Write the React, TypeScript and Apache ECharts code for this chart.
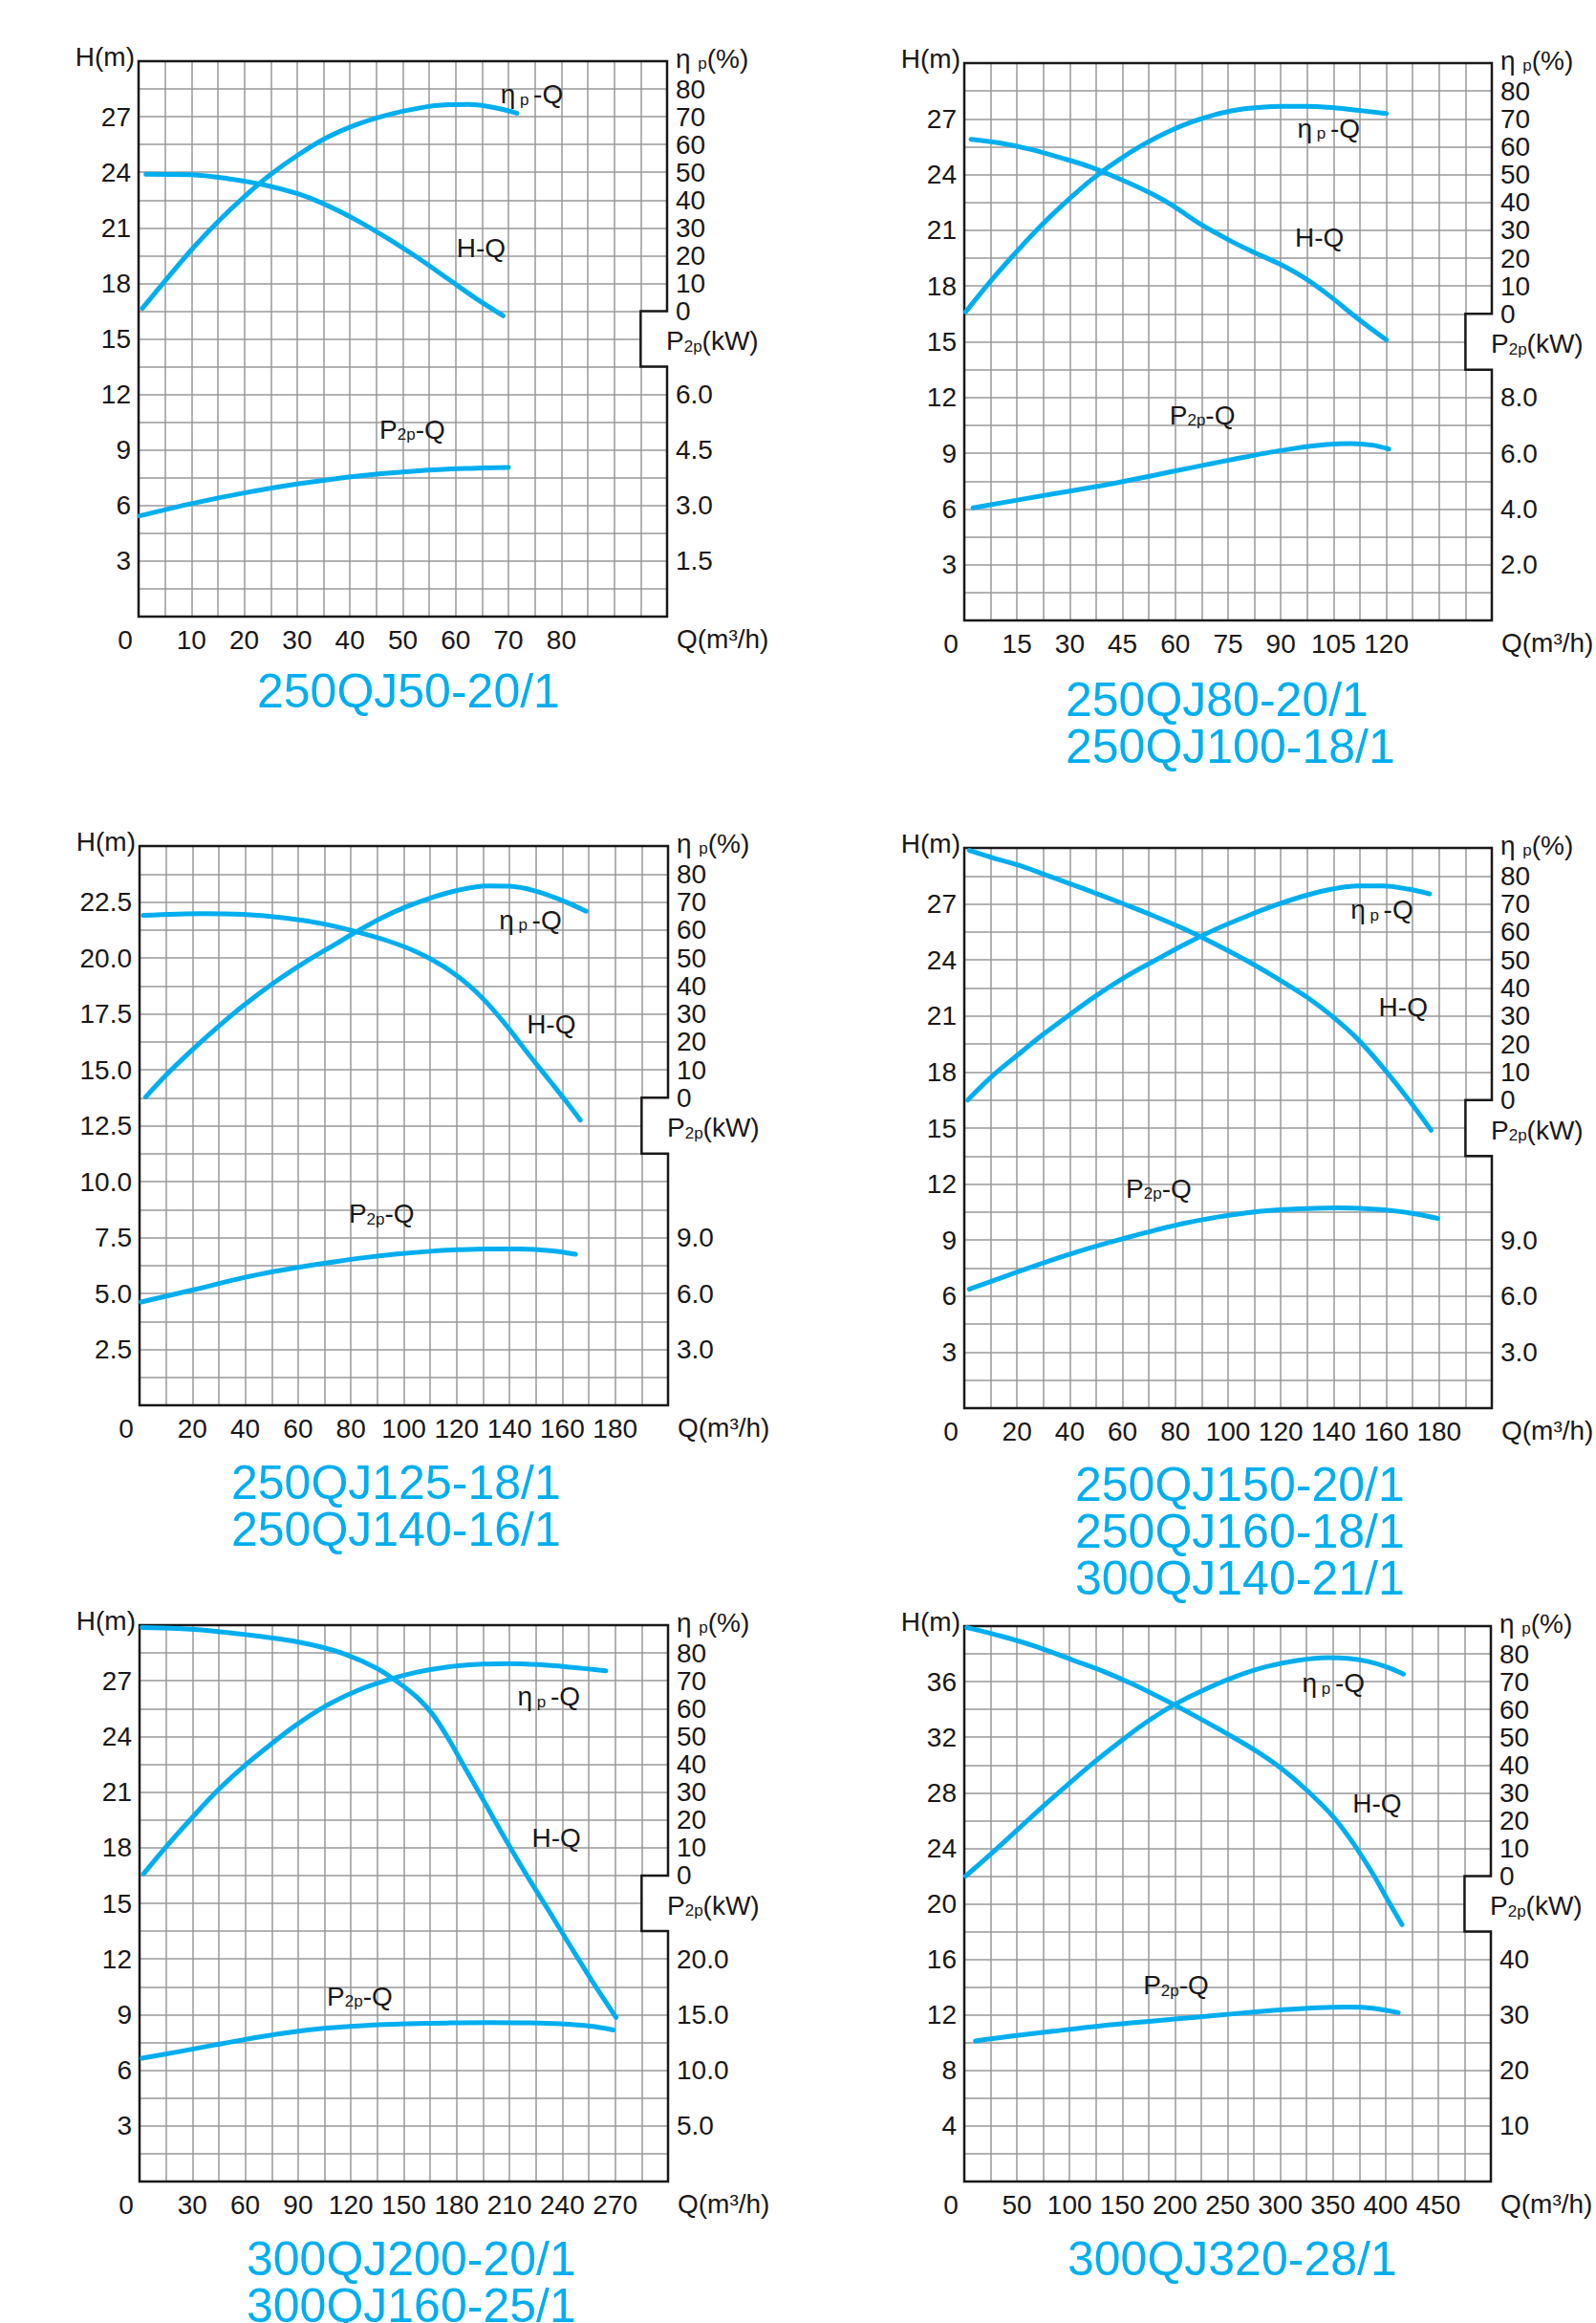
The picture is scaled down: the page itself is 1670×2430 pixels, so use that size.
import React, { useEffect, useRef } from 'react';
import * as echarts from 'echarts';

type Pt = [number, number];

// ---------------- Chart 1 : 250QJ50-20/1 ----------------
const c1Titles = ['250QJ50-20/1'];
const c1HQ: Pt[] = [[1.4, 23.9], [10, 23.87], [17, 23.65], [24, 23.3], [30, 22.85], [35, 22.3], [41, 21.45], [47, 20.45], [53, 19.35], [58.5, 18.25], [64, 17.15], [69, 16.25]];
const c1EtaQ: Pt[] = [[0.7, 1], [5.5, 12], [10.3, 22.7], [15, 32.2], [20, 41.2], [25, 49.2], [30, 56], [35.4, 62.3], [41, 67], [47, 70.6], [53, 73.1], [58.5, 74.3], [62.5, 74.4], [67, 73.4], [71.6, 71.3]];
const c1PQ: Pt[] = [[0.2, 2.72], [10, 3.05], [20, 3.34], [30, 3.58], [41, 3.79], [53, 3.94], [64, 4.01], [70, 4.03]];

// ---------------- Chart 2 : 250QJ80-20/1, 250QJ100-18/1 ----------------
const c2Titles = ['250QJ80-20/1', '250QJ100-18/1'];
const c2HQ: Pt[] = [[1.9, 25.9], [10, 25.7], [19, 25.35], [27.5, 24.9], [36, 24.4], [45, 23.7], [53.5, 22.95], [59.5, 22.3], [67, 21.35], [75.5, 20.45], [82.5, 19.8], [90, 19.15], [97, 18.4], [104, 17.45], [111.5, 16.3], [120, 15.1]];
const c2EtaQ: Pt[] = [[0.4, 0.7], [7.2, 11.3], [14.5, 21.8], [21.7, 31.5], [29, 40.3], [36.2, 48.2], [43.5, 54.9], [50.7, 60.6], [58, 65.4], [65.2, 69.1], [72.5, 71.9], [79.7, 73.6], [90, 74.5], [97, 74.5], [105.8, 73.9], [111.6, 73.1], [120, 71.9]];
const c2PQ: Pt[] = [[2.5, 4.04], [17.4, 4.37], [30.4, 4.65], [39, 4.84], [47.8, 5.05], [59.4, 5.35], [68, 5.57], [76.8, 5.79], [85.5, 6.0], [94.2, 6.18], [103, 6.31], [110, 6.35], [116, 6.29], [120.7, 6.15]];

// ---------------- Chart 3 : 250QJ125-18/1, 250QJ140-16/1 ----------------
const c3Titles = ['250QJ125-18/1', '250QJ140-16/1'];
const c3HQ: Pt[] = [[1.4, 21.9], [24, 21.98], [39.5, 21.94], [55, 21.78], [70.4, 21.5], [82, 21.17], [93.5, 20.78], [105, 20.26], [115, 19.62], [124.4, 18.8], [132, 17.92], [140, 16.8], [147.5, 15.65], [155.3, 14.5], [161, 13.65], [166.8, 12.75]];
const c3EtaQ: Pt[] = [[2.3, 0.2], [10.6, 8.6], [20.3, 17.4], [30, 25.6], [39.5, 33.1], [51, 41.2], [62.7, 48.5], [74.3, 55], [82, 59.3], [91.6, 64.3], [101.3, 68.4], [111, 71.7], [120.5, 74.2], [132, 75.7], [140, 75.6], [149.5, 74], [159, 70.9], [169, 66.7]];
const c3PQ: Pt[] = [[0.6, 5.54], [20.3, 6.19], [39.5, 6.85], [51, 7.18], [62.7, 7.46], [74.3, 7.71], [85.8, 7.93], [97.4, 8.11], [109, 8.25], [120.5, 8.34], [132, 8.39], [143.7, 8.38], [155.3, 8.29], [165, 8.1]];

// ---------------- Chart 4 : 250QJ150-20/1, 250QJ160-18/1, 300QJ140-21/1 ----------------
const c4Titles = ['250QJ150-20/1', '250QJ160-18/1', '300QJ140-21/1'];
const c4HQ: Pt[] = [[1.9, 29.87], [10.9, 29.47], [20.5, 29.08], [30, 28.6], [39.7, 28.1], [49.3, 27.6], [60.8, 26.98], [72.4, 26.33], [84, 25.62], [95.4, 24.83], [107, 23.97], [118.4, 23.03], [130, 22.0], [139.5, 20.98], [149, 19.78], [158.7, 18.25], [168.3, 16.55], [177, 14.88]];
const c4EtaQ: Pt[] = [[1.3, 0], [10.9, 8.8], [20.5, 16.3], [30, 23.5], [39.7, 30.3], [49.3, 36.8], [60.8, 43.8], [72.4, 49.9], [84, 55.8], [95.4, 61], [107, 65.6], [118.4, 69.7], [130, 73.2], [139.5, 75.3], [149, 76.4], [158.7, 76.4], [168.3, 75.3], [176.4, 73.6]];
const c4PQ: Pt[] = [[1.9, 6.37], [14.8, 7.02], [26.3, 7.6], [37.8, 8.15], [49.3, 8.65], [60.8, 9.1], [72.4, 9.53], [84, 9.92], [95.4, 10.22], [107, 10.46], [118.4, 10.61], [130, 10.69], [141.5, 10.72], [153, 10.67], [164.5, 10.54], [172, 10.38], [179.5, 10.16]];

// ---------------- Chart 5 : 300QJ200-20/1, 300QJ160-25/1 ----------------
const c5Titles = ['300QJ200-20/1', '300QJ160-25/1'];
const c5HQ: Pt[] = [[1.4, 29.87], [21.7, 29.82], [42, 29.68], [62, 29.47], [82.4, 29.21], [100, 28.89], [117, 28.42], [134.5, 27.68], [146, 26.97], [157.6, 26.1], [166.3, 25.2], [175, 23.93], [183.7, 22.48], [192.4, 21.03], [201, 19.58], [209.7, 18.13], [221.3, 16.28], [233, 14.5], [244.4, 12.72], [256, 10.95], [270.5, 8.85]];
const c5EtaQ: Pt[] = [[2.3, 0.6], [15.9, 10.9], [30.4, 21.2], [44.8, 30.9], [59.3, 39.3], [73.8, 46.8], [88.2, 53.8], [105.6, 60.9], [123, 66.3], [140.3, 70.2], [157.6, 73.1], [175, 75.0], [192.4, 75.9], [209.7, 76.2], [227, 75.8], [244.4, 74.9], [264.7, 73.6]];
const c5PQ: Pt[] = [[1.4, 11.08], [21.7, 11.65], [42, 12.25], [62, 12.82], [82.4, 13.33], [105.6, 13.78], [128.7, 14.03], [152, 14.17], [175, 14.25], [198, 14.29], [221.3, 14.26], [238.6, 14.17], [256, 13.96], [269, 13.62]];

// ---------------- Chart 6 : 300QJ320-28/1 ----------------
const c6Titles = ['300QJ320-28/1'];
const c6HQ: Pt[] = [[2.4, 39.9], [36, 39.26], [70, 38.48], [103.7, 37.53], [132.6, 36.72], [161.5, 35.77], [190.5, 34.68], [219.4, 33.52], [248.3, 32.3], [277.2, 31.0], [301.4, 29.72], [325.5, 28.16], [349.6, 26.33], [369, 24.4], [388, 22.15], [402.6, 20.2], [415.6, 18.5]];
const c6EtaQ: Pt[] = [[1.4, 0], [26.5, 8.4], [50.6, 16.7], [74.7, 25.1], [98.8, 33.1], [123, 40.9], [147, 48.1], [171, 54.9], [200, 61.8], [229, 67.3], [258, 71.9], [287, 75.4], [316, 77.6], [345, 78.6], [364, 78.4], [383, 77.3], [402.6, 75.1], [417, 72.7]];
const c6PQ: Pt[] = [[10.6, 25.3], [45.8, 26.2], [84.4, 27.05], [123, 27.9], [161.5, 28.6], [200, 29.25], [238.7, 29.9], [277, 30.55], [306, 30.98], [335, 31.3], [364, 31.4], [388, 31.2], [412, 30.4]];

// axis ranges: [Q max, Q last label, H max, H decimals, P max, number of P labels, P decimals]
const c1Axes = [100, 80, 30, 0, 15, 4, 1];
const c2Axes = [150, 120, 30, 0, 20, 4, 1];
const c3Axes = [200, 180, 25, 1, 30, 3, 1];
const c4Axes = [200, 180, 30, 0, 30, 3, 1];
const c5Axes = [300, 270, 30, 0, 50, 4, 1];
const c6Axes = [500, 450, 40, 0, 100, 4, 0];

const CYAN = '#00AEEF';
const INK = '#1A1718';
const GRIDC = '#999999';
const FONT = '"Liberation Sans", Arial, Helvetica, sans-serif';

interface Panel {
  titles: string[];
  hq: Pt[];
  eq: Pt[];
  pq: Pt[];
  axes: number[];
  hqLabel: Pt;
  eqLabel: Pt;
  pqLabel: Pt;
  box: { left: number; top: number; width: number; height: number };
  titlePos: { x: number; y: number };
}

const panels: Panel[] = [
  { titles: c1Titles, hq: c1HQ, eq: c1EtaQ, pq: c1PQ, axes: c1Axes,
    hqLabel: [64.8, 20.0], eqLabel: [74.4, 78.7], pqLabel: [51.8, 5.1],
    box: { left: 145, top: 64, width: 553, height: 581 }, titlePos: { x: 269, y: 723 } },
  { titles: c2Titles, hq: c2HQ, eq: c2EtaQ, pq: c2PQ, axes: c2Axes,
    hqLabel: [101, 20.7], eqLabel: [103.6, 67.2], pqLabel: [67.7, 7.43],
    box: { left: 1009, top: 66, width: 552, height: 583 }, titlePos: { x: 1115, y: 732 } },
  { titles: c3Titles, hq: c3HQ, eq: c3EtaQ, pq: c3PQ, axes: c3Axes,
    hqLabel: [155.8, 17.13], eqLabel: [147.9, 64.3], pqLabel: [91.6, 10.37],
    box: { left: 146, top: 885, width: 553, height: 585 }, titlePos: { x: 242, y: 1551 } },
  { titles: c4Titles, hq: c4HQ, eq: c4EtaQ, pq: c4PQ, axes: c4Axes,
    hqLabel: [166.4, 21.56], eqLabel: [158.3, 68.5], pqLabel: [73.7, 11.87],
    box: { left: 1009, top: 887, width: 552, height: 586 }, titlePos: { x: 1125, y: 1553 } },
  { titles: c5Titles, hq: c5HQ, eq: c5EtaQ, pq: c5PQ, axes: c5Axes,
    hqLabel: [236.6, 18.65], eqLabel: [232.3, 65], pqLabel: [125, 16.8],
    box: { left: 146, top: 1700, width: 553, height: 582 }, titlePos: { x: 258, y: 2363 } },
  { titles: c6Titles, hq: c6HQ, eq: c6EtaQ, pq: c6PQ, axes: c6Axes,
    hqLabel: [392, 27.38], eqLabel: [350.5, 70.1], pqLabel: [201, 35.7],
    box: { left: 1009, top: 1701, width: 551, height: 581 }, titlePos: { x: 1117, y: 2363 } },
];

const isMult = (v: number, s: number) => Math.abs(v / s - Math.round(v / s)) < 1e-6;

const labelRich = {
  a: { fontSize: 28, fontFamily: FONT, color: INK, verticalAlign: 'bottom', lineHeight: 32 },
  s: { fontSize: 17, fontFamily: FONT, color: INK, verticalAlign: 'bottom', lineHeight: 20 },
};
const gRich = {
  a: { fontSize: 28, fontFamily: FONT, fill: INK, verticalAlign: 'bottom', lineHeight: 32 },
  s: { fontSize: 17, fontFamily: FONT, fill: INK, verticalAlign: 'bottom', lineHeight: 20 },
};

function buildOption() {
  const grid: any[] = [];
  const xAxis: any[] = [];
  const yAxis: any[] = [];
  const series: any[] = [];
  const graphic: any[] = [];

  panels.forEach((p, i) => {
    const [xMax, xLabelMax, hMax, hDec, pMax, pLabels, pDec] = p.axes;
    const { left: L, top: T, width: W, height: H } = p.box;
    const R = L + W;
    const B = T + H;
    const colW = W / 20;
    const rowH = H / 20;
    const xStep = xMax / 20;
    const hStep = hMax / 20;
    const pStep = pMax / 20;

    grid.push({ left: L, top: T, width: W, height: H, containLabel: false });

    xAxis.push({
      type: 'value', gridIndex: i, min: 0, max: xMax, interval: xStep,
      axisLine: { show: false }, axisTick: { show: false },
      splitLine: { show: true, lineStyle: { color: GRIDC, width: 1.5 } },
      axisLabel: {
        show: true, margin: 10, fontSize: 28, color: INK, fontFamily: FONT,
        showMinLabel: true, showMaxLabel: true,
        formatter: (v: number) => {
          if (Math.abs(v) < 1e-9) return '{z|0}';
          if (v <= xLabelMax + 1e-9 && isMult(v, 2 * xStep)) return String(Math.round(v));
          return '';
        },
        rich: { z: { fontSize: 28, color: INK, fontFamily: FONT, padding: [0, 28, 0, 0] } },
      },
    });

    // H axis (left)
    yAxis.push({
      type: 'value', gridIndex: i, position: 'left', min: 0, max: hMax, interval: hStep,
      axisLine: { show: false }, axisTick: { show: false },
      splitLine: { show: true, lineStyle: { color: GRIDC, width: 1.5 } },
      axisLabel: {
        show: true, margin: 8, fontSize: 28, color: INK, fontFamily: FONT,
        showMinLabel: true, showMaxLabel: true,
        formatter: (v: number) => (v > 1e-9 && v < hMax - 1e-9 && isMult(v, 2 * hStep) ? v.toFixed(hDec) : ''),
      },
    });
    // efficiency axis (right, upper part)
    yAxis.push({
      type: 'value', gridIndex: i, position: 'right', min: -110, max: 90, interval: 10,
      axisLine: { show: false }, axisTick: { show: false }, splitLine: { show: false },
      axisLabel: {
        show: true, margin: 9, fontSize: 28, color: INK, fontFamily: FONT,
        showMinLabel: true, showMaxLabel: true,
        formatter: (v: number) => (v >= -1e-9 && v <= 80 + 1e-9 ? String(Math.round(v)) : ''),
      },
    });
    // power axis (right, lower part)
    yAxis.push({
      type: 'value', gridIndex: i, position: 'right', min: 0, max: pMax, interval: pStep,
      axisLine: { show: false }, axisTick: { show: false }, splitLine: { show: false },
      axisLabel: {
        show: true, margin: 9, fontSize: 28, color: INK, fontFamily: FONT,
        showMinLabel: true, showMaxLabel: true,
        formatter: (v: number) =>
          v > 1e-9 && v <= 2 * pStep * pLabels + 1e-9 && isMult(v, 2 * pStep) ? v.toFixed(pDec) : '',
      },
    });

    const line = (data: Pt[], yIdx: number, coord: Pt, text: string) => ({
      type: 'line', xAxisIndex: i, yAxisIndex: yIdx, data, smooth: 0.35,
      showSymbol: false, symbol: 'none', silent: true, z: 10,
      lineStyle: { color: CYAN, width: 5, cap: 'round', join: 'round' },
      markPoint: {
        symbol: 'circle', symbolSize: 1, silent: true,
        itemStyle: { color: 'rgba(0,0,0,0)' },
        label: { show: true, position: 'inside', formatter: text, rich: labelRich },
        data: [{ coord }],
      },
    });
    series.push(line(p.hq, 3 * i, p.hqLabel, '{a|H-Q}'));
    series.push(line(p.eq, 3 * i + 1, p.eqLabel, '{a|η}{s| p }{a|-Q}'));
    series.push(line(p.pq, 3 * i + 2, p.pqLabel, '{a|P}{s|2p}{a|-Q}'));

    const y9 = T + 9 * rowH;
    const y11 = T + 11 * rowH;
    // white notch interior
    graphic.push({
      type: 'rect', z: 5, silent: true,
      shape: { x: R - colW, y: y9, width: colW + 3, height: y11 - y9 },
      style: { fill: '#ffffff' },
    });
    // frame with notch
    graphic.push({
      type: 'polygon', z: 6, silent: true,
      shape: { points: [[L, T], [R, T], [R, y9], [R - colW, y9], [R - colW, y11], [R, y11], [R, B], [L, B]] },
      style: { fill: 'none', stroke: INK, lineWidth: 2.5, lineJoin: 'miter' },
    });
    // axis names
    graphic.push({
      type: 'text', z: 7, x: L - 4, y: T - 5, silent: true,
      style: { text: 'H(m)', fontSize: 28, fontFamily: FONT, fill: INK, align: 'right', verticalAlign: 'middle' },
    });
    graphic.push({
      type: 'text', z: 7, x: R + 9, y: T - 5, silent: true,
      style: { text: '{a|η }{s|p}{a|(%)}', rich: gRich, align: 'left', verticalAlign: 'middle' },
    });
    graphic.push({
      type: 'text', z: 7, x: R - 1, y: T + 10 * rowH, silent: true,
      style: { text: '{a|P}{s|2p}{a|(kW)}', rich: gRich, align: 'left', verticalAlign: 'middle' },
    });
    graphic.push({
      type: 'text', z: 7, x: R + 10, y: B + 23, silent: true,
      style: { text: 'Q(m³/h)', fontSize: 28, fontFamily: FONT, fill: INK, align: 'left', verticalAlign: 'middle' },
    });
    // model titles (one multi-line text block)
    graphic.push({
      type: 'text', z: 7, x: p.titlePos.x, y: p.titlePos.y - 24.5, silent: true,
      style: {
        text: p.titles.join('\n'), fontSize: 50, lineHeight: 49, fontFamily: FONT,
        fill: CYAN, align: 'left', verticalAlign: 'top',
      },
    });
  });

  return {
    animation: false,
    backgroundColor: '#ffffff',
    grid, xAxis, yAxis, series, graphic,
  };
}

export default function App() {
  const ref = useRef<HTMLDivElement>(null);
  useEffect(() => {
    if (!ref.current) return;
    const chart = echarts.init(ref.current, null, { renderer: 'svg' });
    chart.setOption(buildOption() as any);
    return () => chart.dispose();
  }, []);
  return (
    <div
      ref={ref}
      style={{ position: 'absolute', left: 0, top: 0, width: 1670, height: 2430, background: '#fff' }}
    />
  );
}
